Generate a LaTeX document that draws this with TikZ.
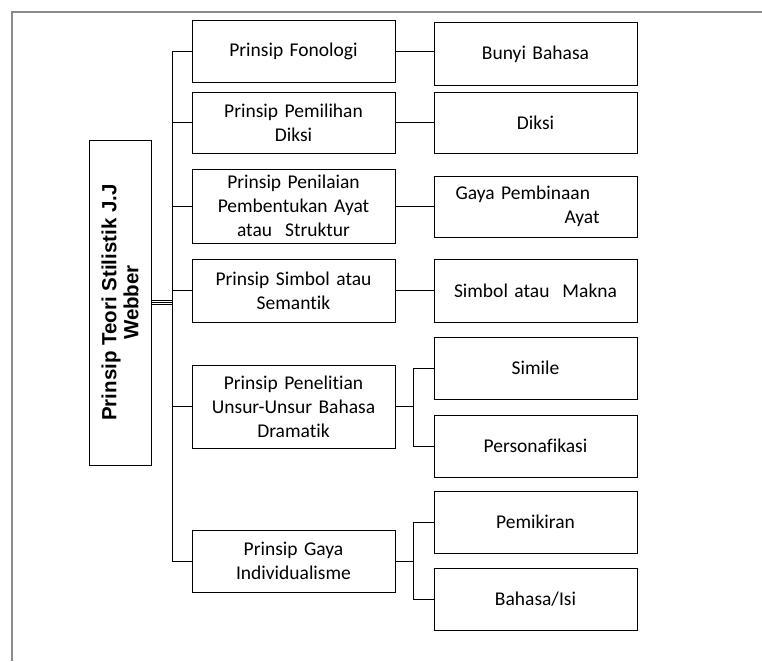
\documentclass[tikz,border=0pt]{standalone}
\usepackage{fontspec}
\setmainfont{Carlito}[Ligatures=NoCommon]
\newfontfamily\rootfont{Liberation Sans}

\tikzset{
  prinsip/.style={draw, line width=1pt, text width=190pt, align=center, minimum width=203pt,
    inner sep=0pt, font=\fontsize{19.5}{24}\selectfont},
  unsur/.style={prinsip},
  frame/.style={draw=gray!90, line width=1.3pt},
  link/.style={line width=1pt}
}

\begin{document}
\begin{tikzpicture}[x=1pt,y=-1pt]
                \useasboundingbox (0,0) rectangle (762,661);
                \draw[frame] (12,661) -- (12,12) -- (762,12);
                % akar
                \node[draw, line width=1pt, rotate=90, minimum width=325pt, minimum height=62pt, inner sep=0pt,
                  align=center, font=\rootfont\bfseries\fontsize{20.5}{22}\selectfont] (root) at (120,302.5)
                  {Prinsip Teori Stilistik J.J\\Webber};
                % prinsip
                \node[prinsip, minimum height=61pt] (p1) at (293.5,51.5) {Prinsip Fonologi};
                \node[prinsip, minimum height=61pt] (p2) at (293.5,122.5) {Prinsip Pemilihan\\Diksi};
                \node[prinsip, minimum height=74pt] (p3) at (293.5,206) {Prinsip Penilaian\\Pembentukan Ayat\\atau\ \ Struktur};
                \node[prinsip, minimum height=63pt] (p4) at (293.5,290.5) {Prinsip Simbol atau\\Semantik};
                \node[prinsip, minimum height=83pt] (p5) at (293.5,406.5) {Prinsip Penelitian\\Unsur-Unsur Bahasa\\Dramatik};
                \node[prinsip, minimum height=62pt] (p6) at (293.5,561) {Prinsip Gaya\\Individualisme};
                % unsur
                \node[unsur, minimum height=62pt] (u1) at (535.5,54) {Bunyi Bahasa};
                \node[unsur, minimum height=61pt] (u2) at (535.5,122.5) {Diksi};
                \node[unsur, minimum height=61pt, align=left] (u3) at (535.5,206.5) {\hspace*{15pt}Gaya Pembinaan\\\hspace*{124pt}Ayat};
                \node[unsur, minimum height=63pt] (u4) at (535.5,290.5) {Simbol atau\ \ Makna};
                \node[unsur, minimum height=62pt] (u5) at (535.5,368) {Simile};
                \node[unsur, minimum height=62pt] (u6) at (535.5,446) {Personafikasi};
                \node[unsur, minimum height=62pt] (u7) at (535.5,522) {Pemikiran};
                \node[unsur, minimum height=62pt] (u8) at (535.5,599) {Bahasa/Isi};
                % batang
                \coordinate (trunk) at (172,0);
                \coordinate (fork) at (413,0);
                \draw[link] (p1.west -| trunk) -- (p6.west -| trunk);
                \draw[line width=0.7pt] (root.south) -- (root.south -| trunk);
                \draw[line width=0.7pt] ([yshift=-2.3pt]root.south) -- ([yshift=-2.3pt]root.south -| trunk);
                \draw[line width=0.7pt] ([yshift=2.3pt]root.south) -- ([yshift=2.3pt]root.south -| trunk);
                \draw[link] (p1.west) -- (p1.west -| trunk);
                \draw[link] (p2.west) -- (p2.west -| trunk);
                \draw[link] (p3.west) -- (p3.west -| trunk);
                \draw[link] (p4.west) -- (p4.west -| trunk);
                \draw[link] (p5.west) -- (p5.west -| trunk);
                \draw[link] (p6.west) -- (p6.west -| trunk);
                % cabang
                \draw[link] (p1.east) -- (p1.east -| u1.west);
                \draw[link] (p2.east) -- (p2.east -| u2.west);
                \draw[link] (p3.east) -- (p3.east -| u3.west);
                \draw[link] (p4.east) -- (p4.east -| u4.west);
                \draw[link] (p5.east) -- (p5.east -| fork);
                \draw[link] (u5.west -| fork) -- (u6.west -| fork);
                \draw[link] (u5.west) -- (u5.west -| fork);
                \draw[link] (u6.west) -- (u6.west -| fork);
                \draw[link] (p6.east) -- (p6.east -| fork);
                \draw[link] (u7.west -| fork) -- (u8.west -| fork);
                \draw[link] (u7.west) -- (u7.west -| fork);
                \draw[link] (u8.west) -- (u8.west -| fork);
            \end{tikzpicture}
\end{document}
